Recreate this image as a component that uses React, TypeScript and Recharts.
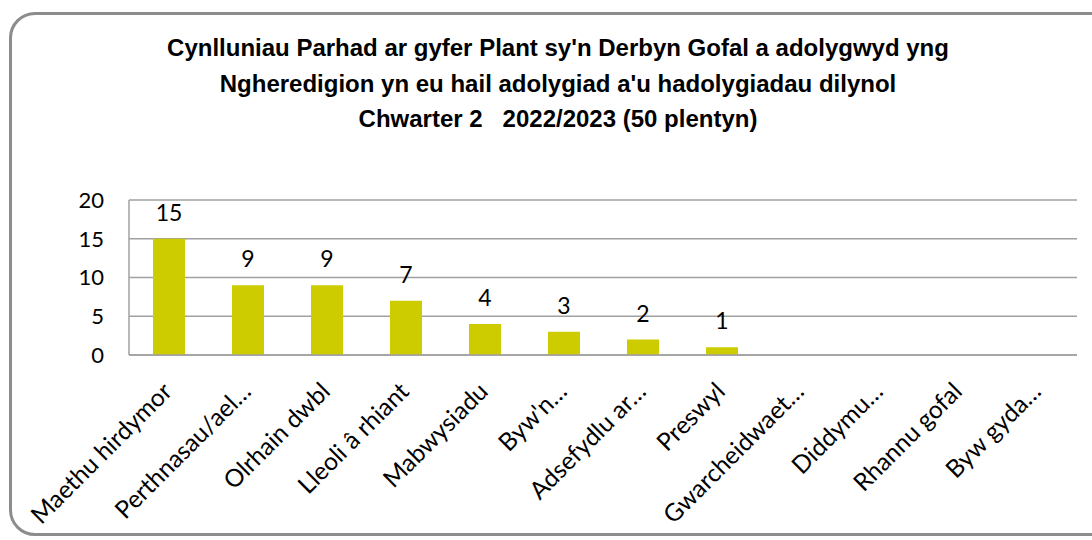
import React from "react"
import { BarChart, Bar, XAxis, YAxis, CartesianGrid, LabelList } from "recharts"

// Care plan types reviewed (Q2 2022/2023)
const categories = [
  "Maethu hirdymor",
  "Perthnasau/ael…",
  "Olrhain dwbl",
  "Lleoli â rhiant",
  "Mabwysiadu",
  "Byw'n…",
  "Adsefydlu ar…",
  "Preswyl",
  "Gwarcheidwaet…",
  "Diddymu…",
  "Rhannu gofal",
  "Byw gyda…",
]
const counts: (number | null)[] = [15, 9, 9, 7, 4, 3, 2, 1, null, null, null, null]
const yTicks = [0, 5, 10, 15, 20]

const titleLines = [
  "Cynlluniau Parhad ar gyfer Plant sy'n Derbyn Gofal a adolygwyd yng",
  "Ngheredigion yn eu hail adolygiad a'u hadolygiadau dilynol",
  "Chwarter 2   2022/2023 (50 plentyn)",
]

const data = categories.map((name, i) => ({ name, value: counts[i] }))

const labelFont = "Lato, 'Open Sans', sans-serif"

function AngledTick(props: any) {
  const { x, y, payload } = props
  const px = x + 5
  const py = y + 30
  return (
    <text
      x={px}
      y={py}
      textAnchor="end"
      transform={`rotate(-45, ${px}, ${py})`}
      fontSize={24.5}
      fontFamily={labelFont}
      fill="#000"
    >
      {payload.value}
    </text>
  )
}

export default function App() {
  return (
    <div style={{ position: "absolute", left: 0, top: 0, width: 1092, height: 540, background: "#fff", overflow: "hidden" }}>
      <div
        style={{
          position: "absolute",
          left: 9,
          top: 12,
          width: 1110,
          height: 524,
          border: "3px solid #8c8c8c",
          borderRadius: 26,
          boxSizing: "border-box",
        }}
      />
      <div
        style={{
          position: "absolute",
          left: 0,
          top: 30,
          width: 1116,
          textAlign: "center",
          fontFamily: "'Liberation Sans', Arial, sans-serif",
          fontWeight: "bold",
          fontSize: 24,
          lineHeight: "35.5px",
          color: "#000",
        }}
      >
        {titleLines.map((t) => (
          <div key={t} style={{ whiteSpace: "pre" }}>{t}</div>
        ))}
      </div>
      <div style={{ position: "absolute", left: 0, top: 0 }}>
        <BarChart width={1092} height={540} data={data} margin={{ top: 200, right: 15, left: 89, bottom: 35 }}>
          <CartesianGrid vertical={false} stroke="#a0a0a0" strokeWidth={1.5} />
          <XAxis
            dataKey="name"
            interval={0}
            tick={<AngledTick />}
            tickLine={false}
            axisLine={{ stroke: "#a0a0a0", strokeWidth: 1.5 }}
            height={150}
          />
          <YAxis
            domain={[0, 20]}
            ticks={yTicks}
            width={40}
            tickLine={false}
            tickSize={0}
            tickMargin={25}
            axisLine={{ stroke: "#a0a0a0", strokeWidth: 1.5 }}
            tick={{ fontSize: 22, fill: "#000", fontFamily: labelFont }}
          />
          <Bar dataKey="value" fill="#cccc00" barSize={32} isAnimationActive={false}>
            <LabelList dataKey="value" position="top" offset={18} fontSize={23} fill="#000" fontFamily={labelFont} />
          </Bar>
        </BarChart>
      </div>
    </div>
  )
}
